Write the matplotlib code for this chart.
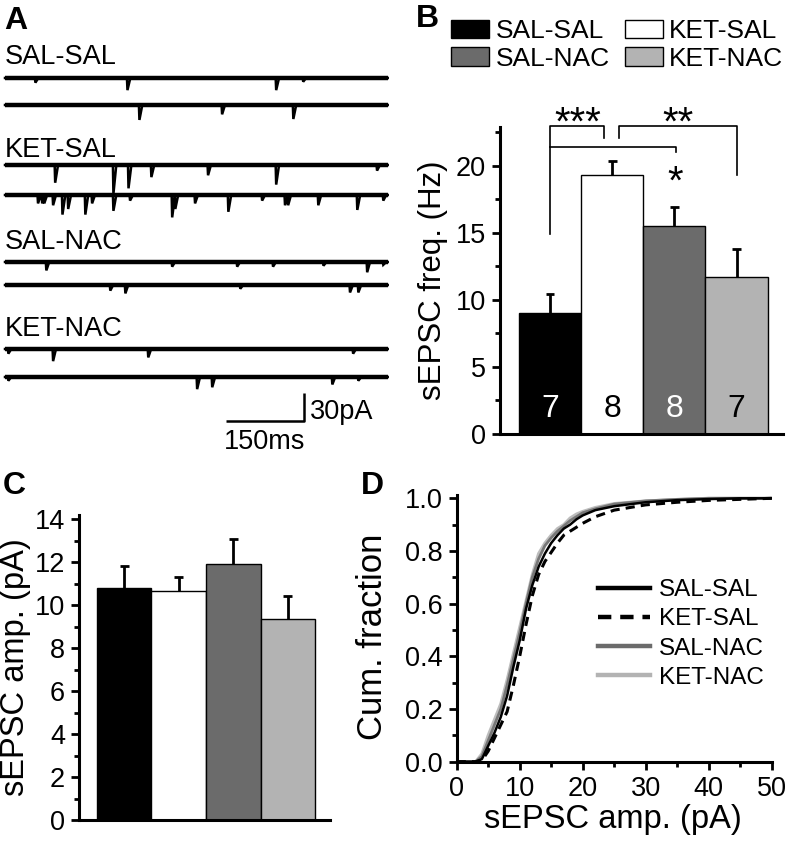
import numpy as np
import matplotlib
matplotlib.use("Agg")
from matplotlib import pyplot as plt
from matplotlib.patches import Patch
from matplotlib.lines import Line2D
from matplotlib.ticker import MultipleLocator

plt.rcParams['font.family'] = ['Liberation Sans', 'DejaVu Sans']

groups = ['SAL-SAL', 'KET-SAL', 'SAL-NAC', 'KET-NAC']
bar_colors = ['black', 'white', '#6b6b6b', '#b3b3b3']
n_colors = ['white', 'black', 'white', 'black']

# B: sEPSC frequency (Hz), mean and SEM, n cells
freq_mean = [9.0, 19.3, 15.5, 11.7]
freq_sem = [1.47, 1.1, 1.4, 2.1]
n_cells = [7, 8, 8, 7]

# C: sEPSC amplitude (pA)
amp_mean = [10.8, 10.66, 11.93, 9.34]
amp_sem = [1.02, 0.67, 1.13, 1.09]

# D: cumulative fraction of amplitudes
cdf_amp = [0, 1, 2, 3, 4, 5, 6, 7, 8, 9, 10, 11, 12, 13, 14, 15, 16, 17, 18, 19,
           20, 22, 25, 30, 35, 40, 45, 50]
cdf_sal_sal = [0, 0, 0, 0, 0.01, 0.06, 0.11, 0.17, 0.25, 0.36, 0.46, 0.58, 0.67,
               0.74, 0.79, 0.83, 0.86, 0.885, 0.90, 0.92, 0.935, 0.955, 0.97,
               0.985, 0.993, 0.997, 1.0, 1.0]
cdf_ket_sal = [0, 0, 0, 0, 0.005, 0.04, 0.09, 0.14, 0.19, 0.29, 0.40, 0.52, 0.63,
               0.71, 0.76, 0.795, 0.83, 0.86, 0.875, 0.89, 0.905, 0.93, 0.955,
               0.975, 0.985, 0.992, 0.996, 1.0]
cdf_sal_nac = [0, 0, 0, 0, 0.02, 0.08, 0.14, 0.20, 0.29, 0.39, 0.49, 0.60, 0.70,
               0.77, 0.82, 0.85, 0.875, 0.895, 0.915, 0.93, 0.945, 0.96, 0.978,
               0.99, 0.996, 1.0, 1.0, 1.0]
cdf_ket_nac = [0, 0, 0, 0, 0.03, 0.10, 0.16, 0.22, 0.31, 0.41, 0.51, 0.61, 0.71,
               0.79, 0.83, 0.86, 0.885, 0.90, 0.925, 0.94, 0.95, 0.965, 0.98,
               0.99, 0.995, 1.0, 1.0, 1.0]

# A: example traces, event times (ms) and amplitudes (pA)
trace_len = 736
ss1_t, ss1_a = [58, 235, 521, 573], [5, 13, 13, 4]
ss2_t, ss2_a = [258, 417, 554], [16, 10, 15]
ks1_t, ks1_a = [96, 208, 237, 281, 390, 521, 715], [19, 31, 25, 13, 11, 21, 6]
ks2_t = [63, 71, 75, 92, 110, 121, 154, 167, 208, 240, 321, 327, 365, 429, 494,
         538, 544, 602, 677, 727]
ks2_a = [9, 9, 9, 11, 21, 15, 21, 9, 17, 6, 24, 15, 9, 18, 6, 11, 11, 11, 16, 6]
sn1_t, sn1_a = [79, 321, 446, 515, 612, 696, 727], [9, 5, 5, 5, 4, 11, 3]
sn2_t, sn2_a = [202, 231, 452, 663, 679], [6, 9, 4, 8, 8]
kn1_t, kn1_a = [6, 92, 275, 669], [5, 13, 9, 5]
kn2_t, kn2_a = [6, 369, 398, 629, 679], [4, 13, 11, 8, 4]

W, H = 788, 846
fig = plt.figure(figsize=(W / 100, H / 100), dpi=100)


def rect(l, t, r, b):
    return [l / W, 1 - b / H, (r - l) / W, (b - t) / H]


def pxy(py):
    # A panel: pixel row -> pA coordinate
    return -(py - 40) * 30 / 28


def trace_xy(times, amps):
    xs, ys = [0], [0]
    for t, a in zip(times, amps):
        xs += [t - 0.5, t + 0.5, t + 6]
        ys += [0, -a, 0]
    xs.append(trace_len)
    ys.append(0)
    return np.array(xs), np.array(ys)


# ---------------- A ----------------
ax_a = fig.add_axes(rect(0, 40, 400, 455))
ax_a.set_xlim(-5 * 150 / 78, 395 * 150 / 78)
ax_a.set_ylim(pxy(455), 0)
ax_a.axis('off')
traces = [(ss1_t, ss1_a), (ss2_t, ss2_a), (ks1_t, ks1_a), (ks2_t, ks2_a),
          (sn1_t, sn1_a), (sn2_t, sn2_a), (kn1_t, kn1_a), (kn2_t, kn2_a)]
rows = [78, 105, 165, 195, 262, 285, 349, 377]
for (t, a), r in zip(traces, rows):
    xs, ys = trace_xy(t, a)
    ax_a.plot([0, trace_len], [pxy(r), pxy(r)], color='black', lw=3.2,
              solid_capstyle='butt')
    ax_a.plot(xs, ys + pxy(r), color='black', lw=1.8, solid_joinstyle='miter')
for g, r in zip(groups, [57, 150, 242, 329]):
    ax_a.text(0, pxy(r), g, fontsize=19.5, va='center', ha='left')
# scale bar
ax_a.plot([425, 575, 575], [pxy(421), pxy(421), pxy(421) + 30], color='black',
          lw=1.8, solid_capstyle='butt')
ax_a.text(586, pxy(412), '30pA', fontsize=19.5, va='center', ha='left')
ax_a.text(421, pxy(442), '150ms', fontsize=19.5, va='center', ha='left')


def style_axes(ax):
    for s in ['top', 'right']:
        ax.spines[s].set_visible(False)
    for s in ['left', 'bottom']:
        ax.spines[s].set_linewidth(2.2)
    ax.tick_params(which='major', direction='out', length=6, width=2,
                   labelsize=19.5, pad=4)
    ax.tick_params(which='minor', direction='out', length=3.5, width=2)


def draw_bars(ax, means, sems, cap):
    x = np.arange(len(means))
    ax.bar(x, means, width=1.0, color=bar_colors, edgecolor='black', lw=1)
    tops = np.array(means) + np.array(sems)
    ax.vlines(x, means, tops, color='black', lw=2)
    ax.hlines(tops, x - cap, x + cap, color='black', lw=2)
    ax.set_xticks([])
    return x


# ---------------- B ----------------
ax_b = fig.add_axes(rect(500, 127, 783, 434))
style_axes(ax_b)
xb = draw_bars(ax_b, freq_mean, freq_sem, 0.07)
ax_b.set_xlim(-0.806, 3.747)
ax_b.set_ylim(0, 22.9)
ax_b.set_yticks([0, 5, 10, 15, 20])
ax_b.yaxis.set_minor_locator(MultipleLocator(2.5))
ax_b.set_ylabel('sEPSC freq. (Hz)', fontsize=22.5)
ax_b.yaxis.set_label_coords(-0.185, 0.5)
for xi, n, c in zip(xb, n_cells, n_colors):
    ax_b.text(xi, 1.9, str(n), color=c, fontsize=23, ha='center', va='center')
# significance brackets
blw = 1.2
ax_b.plot([0, 0, 0.87, 0.87], [14.9, 23.0, 23.0, 22.1], color='black', lw=blw,
          clip_on=False)
ax_b.plot([1.11, 1.11, 3.0, 3.0], [22.1, 23.0, 23.0, 19.3], color='black', lw=blw,
          clip_on=False)
ax_b.plot([0, 2.02, 2.02], [21.4, 21.4, 21.0], color='black', lw=blw, clip_on=False)
ax_b.text(0.44, 22.3, '***', fontsize=29, ha='center', va='baseline')
ax_b.text(2.05, 22.3, '**', fontsize=29, ha='center', va='baseline')
ax_b.text(2.02, 17.9, '*', fontsize=29, ha='center', va='baseline')
handles = [Patch(facecolor=bar_colors[i], edgecolor='black', lw=1, label=groups[i])
           for i in [0, 2, 1, 3]]
ax_b.legend(handles=handles, ncol=2, loc='upper left',
            bbox_to_anchor=(451 / W, 1 - 19 / H), bbox_transform=fig.transFigure,
            frameon=False, fontsize=19, handlelength=1.45, handleheight=0.7,
            handletextpad=0.25, columnspacing=0.55, labelspacing=0.15,
            borderpad=0, borderaxespad=0)

# ---------------- C ----------------
ax_c = fig.add_axes(rect(79, 515, 330, 820))
style_axes(ax_c)
draw_bars(ax_c, amp_mean, amp_sem, 0.08)
ax_c.set_xlim(-0.83, 3.775)
ax_c.set_ylim(0, 14.2)
ax_c.set_yticks(range(0, 15, 2))
ax_c.yaxis.set_minor_locator(MultipleLocator(1))
ax_c.set_ylabel('sEPSC amp. (pA)', fontsize=23.5)
ax_c.yaxis.set_label_coords(-0.19, 0.5)

# ---------------- D ----------------
ax_d = fig.add_axes(rect(456.7, 495, 771.7, 761.7))
style_axes(ax_d)
ax_d.plot(cdf_amp, cdf_ket_nac, color='#bdbdbd', lw=2.2)
ax_d.plot(cdf_amp, cdf_sal_nac, color='#777777', lw=2.0)
ax_d.plot(cdf_amp, cdf_sal_sal, color='black', lw=1.8)
ax_d.plot(cdf_amp, cdf_ket_sal, color='black', lw=2.2, ls=(0, (3, 2)))
ax_d.set_xlim(0, 50)
ax_d.set_ylim(0, 1.0125)
ax_d.set_yticks([0, 0.2, 0.4, 0.6, 0.8, 1.0])
ax_d.set_yticklabels(['0.0', '0.2', '0.4', '0.6', '0.8', '1.0'])
ax_d.set_xticks([0, 10, 20, 30, 40, 50])
ax_d.yaxis.set_minor_locator(MultipleLocator(0.1))
ax_d.xaxis.set_minor_locator(MultipleLocator(5))
ax_d.set_ylabel('Cum. fraction', fontsize=25)
ax_d.yaxis.set_label_coords(-0.215, 0.467)
ax_d.set_xlabel('sEPSC amp. (pA)', fontsize=23.5)
ax_d.xaxis.set_label_coords(0.496, -0.16)
lhandles = [Line2D([], [], color='black', lw=3.2),
            Line2D([], [], color='black', lw=3.2, ls=(0, (3, 2))),
            Line2D([], [], color='#6b6b6b', lw=3.2),
            Line2D([], [], color='#b3b3b3', lw=3.2)]
ax_d.legend(lhandles, groups, loc='upper left',
            bbox_to_anchor=(598 / W, 1 - 579 / H), bbox_transform=fig.transFigure,
            frameon=False, fontsize=17.5, handlelength=2.15, handletextpad=0.35,
            labelspacing=0.3, borderpad=0, borderaxespad=0)

# panel letters
for lab, x, y in [('A', 4, 6), ('B', 416, 4), ('C', 3, 471), ('D', 361, 471)]:
    fig.text(x / W, 1 - y / H, lab, fontsize=23, fontweight='bold',
             ha='left', va='top')

fig.savefig('out.png', dpi=100)
